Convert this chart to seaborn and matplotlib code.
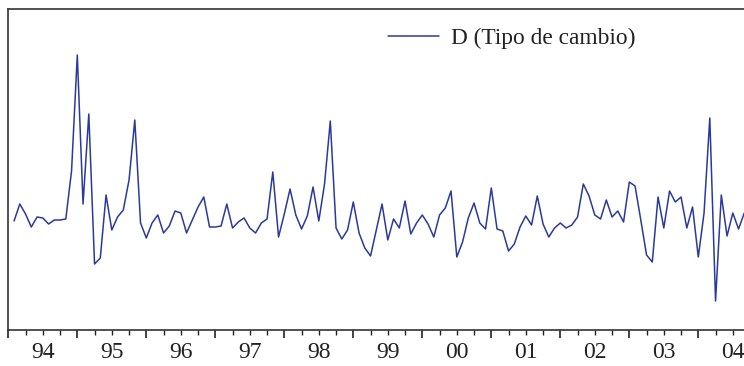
"""Serie D (Tipo de cambio), mensual 1994-2004, estilo EViews."""

import matplotlib

matplotlib.use("Agg")
import matplotlib.pyplot as plt
import numpy as np
import pandas as pd
import seaborn as sns

# datos (primera diferencia del tipo de cambio, mensual)
start_month = "1994-02"
d_tipo_cambio = [
    0.000, 0.017, 0.007, -0.006, 0.004, 0.003, -0.003, 0.001, 0.001, 0.002,
    0.050, 0.166, 0.017, 0.107, -0.043, -0.037, 0.026, -0.009, 0.004, 0.011,
    0.041, 0.101, -0.002, -0.017, -0.002, 0.006, -0.012, -0.005, 0.010, 0.008,
    -0.012, 0.001, 0.014, 0.024, -0.006, -0.006, -0.005, 0.017, -0.007, -0.001,
    0.003, -0.007, -0.012, -0.002, 0.002, 0.049, -0.016, 0.007, 0.032, 0.006,
    -0.008, 0.005, 0.034, 0.000, 0.037, 0.100, -0.007, -0.018, -0.009, 0.019,
    -0.012, -0.027, -0.035, -0.009, 0.017, -0.019, 0.002, -0.007, 0.020, -0.013,
    -0.002, 0.006, -0.003, -0.016, 0.006, 0.013, 0.030, -0.036, -0.021, 0.003,
    0.018, -0.002, -0.008, 0.033, -0.008, -0.010, -0.030, -0.023, -0.006, 0.005,
    -0.004, 0.025, -0.003, -0.016, -0.007, -0.002, -0.007, -0.004, 0.004, 0.037,
    0.025, 0.006, 0.002, 0.021, 0.004, 0.010, -0.001, 0.039, 0.035, 0.001,
    -0.034, -0.041, 0.024, -0.007, 0.030, 0.019, 0.024, -0.007, 0.014, -0.036,
    0.008, 0.103, -0.080, 0.026, -0.015, 0.008, -0.008, 0.008,
]
year_labels = ["94", "95", "96", "97", "98", "99", "00", "01", "02", "03", "04"]
series_label = "D (Tipo de cambio)"

dates = pd.period_range(start_month, periods=len(d_tipo_cambio), freq="M")
df = pd.DataFrame({
    "t": dates.year + (dates.month - 1) / 12,
    "d": d_tipo_cambio,
})

sns.set_theme(style="white")
plt.rcParams["font.family"] = ["Liberation Serif", "DejaVu Serif"]

W, H, DPI = 744, 366, 100
fig = plt.figure(figsize=(W / DPI, H / DPI), dpi=DPI)
year_px = 69.0
first_year = 1994
n_years = len(year_labels)
# the axes runs past the right edge of the picture (cropped like the original)
ax = fig.add_axes([8.3 / W, (H - 330) / H, n_years * year_px / W, 321 / H])

sns.lineplot(data=df, x="t", y="d", ax=ax, color="#2a3a9c", lw=1.1,
             label=series_label)

ax.set_xlim(first_year, first_year + n_years)
ax.set_ylim(-0.109, 0.212)
ax.set_xlabel("")
ax.set_ylabel("")
ax.set_yticks([])

years = np.arange(first_year, first_year + n_years + 1)
quarters = np.array([y + q / 4 for y in years[:-1] for q in (1, 2, 3)])
ax.set_xticks(years)
ax.set_xticklabels([])
ax.set_xticks(quarters, minor=True)
ax.tick_params(axis="x", which="major", bottom=True, direction="out",
               length=6, width=1.2, color="#222222")
ax.tick_params(axis="x", which="minor", bottom=True, direction="out",
               length=3.5, width=1.0, color="#222222")

for side in ("left", "top", "bottom"):
    ax.spines[side].set_color("#333333")
    ax.spines[side].set_linewidth(1.2)
ax.spines["right"].set_visible(False)

# year labels centred inside each year
sec = ax.secondary_xaxis("bottom")
sec.set_xticks(years[:-1] + 0.5)
sec.set_xticklabels(year_labels, fontsize=17, color="#222222")
sec.tick_params(axis="x", length=0, pad=9)
sec.spines["bottom"].set_visible(False)

ax.legend(loc="center left", bbox_to_anchor=(388 / W, 1 - 38 / H),
          bbox_transform=fig.transFigure, frameon=False, fontsize=16.8,
          handlelength=2.2, handletextpad=0.48, borderpad=0, borderaxespad=0,
          labelcolor="#222222")

fig.savefig("out.png", dpi=DPI)
plt.close(fig)
